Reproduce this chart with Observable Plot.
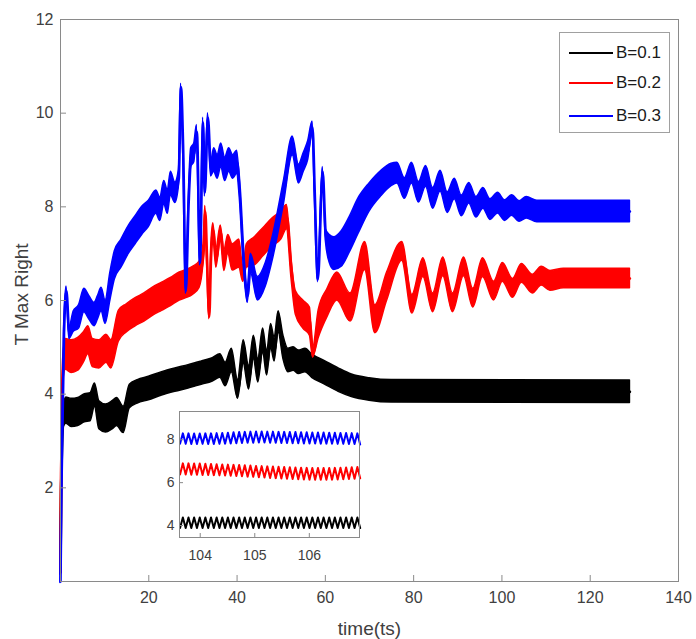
<!DOCTYPE html>
<html><head><meta charset="utf-8">
<script src="https://cdn.jsdelivr.net/npm/d3@7"></script>
<script src="https://cdn.jsdelivr.net/npm/@observablehq/plot@0.6"></script>
<style>
body{margin:0;background:#fff;}
#wrap{position:relative;width:696px;height:639px;font-family:"Liberation Sans",Arial,sans-serif;overflow:hidden;}
#wrap svg{position:absolute;}
.legend{position:absolute;left:559px;top:32px;width:111px;height:101px;border:1px solid #a0a0a0;background:#fff;box-sizing:border-box;}
.legend .ln{position:absolute;left:9px;width:44px;height:2px;}
.legend .tx{position:absolute;left:56px;font-size:17px;line-height:20px;color:#1a1a1a;white-space:nowrap;}
</style></head><body><div id="wrap"></div><script>
// ---- data: [time, centre value, half band width] ----
const seriesNames = ["B=0.1", "B=0.2", "B=0.3"];
const seriesColors = ["#000000", "#ff0000", "#0000ff"];
const xTicks = [20, 40, 60, 80, 100, 120, 140];
const yTicks = [2, 4, 6, 8, 10, 12];
const insetXTicks = [104, 105, 106];
const insetYTicks = [4, 6, 8];

const black = [
[0,0.2,0.05],[0.15,2.0,0.08],[0.7,3.5,0.22],[1.3,3.65,0.28],[2.5,3.6,0.3],[4,3.62,0.3],[5.5,3.7,0.3],[6.8,3.72,0.3],[7.8,3.98,0.25],[8.8,3.55,0.3],[10.3,3.48,0.3],[11.8,3.55,0.3],[12.8,3.62,0.3],[14.3,3.45,0.28],[15.7,3.95,0.25],[17.5,4.05,0.25],[20,4.12,0.25],[23,4.22,0.25],[26,4.3,0.25],[29,4.37,0.25],[32,4.45,0.25],[34.5,4.52,0.25],[36.2,4.6,0.25],[37.4,4.42,0.25],[38.8,4.72,0.25],[40.2,4.1,0.2],[41.5,4.9,0.25],[42.7,4.35,0.25],[43.8,5.0,0.25],[44.8,4.5,0.25],[45.9,5.15,0.25],[46.8,4.65,0.25],[47.7,5.25,0.25],[48.5,4.95,0.25],[49.4,5.55,0.22],[50.5,5.0,0.25],[51.6,4.72,0.25],[52.8,4.75,0.25],[54,4.68,0.25],[55.5,4.72,0.25],[57,4.6,0.25],[60,4.45,0.25],[63,4.3,0.25],[66,4.18,0.24],[70,4.1,0.24],[75,4.06,0.24],[129,4.05,0.24]
];
const red = [
[0,0.2,0.05],[0.15,2.3,0.08],[0.6,4.5,0.25],[1.2,4.85,0.33],[2.5,4.8,0.35],[4,4.85,0.35],[5.3,5.0,0.32],[6.3,5.15,0.3],[7.3,4.88,0.3],[8.8,4.85,0.3],[10.4,4.97,0.3],[11.5,4.85,0.3],[13.2,5.45,0.33],[15,5.62,0.3],[17,5.75,0.3],[19,5.85,0.3],[21,5.98,0.3],[23,6.08,0.3],[25,6.18,0.3],[27,6.3,0.3],[28.5,6.35,0.3],[30,6.42,0.3],[31.5,6.55,0.28],[32.4,7.0,0.2],[32.8,7.9,0.12],[33.2,6.9,0.12],[33.7,5.65,0.05],[34.1,6.9,0.15],[34.6,7.5,0.15],[35.3,6.9,0.2],[36.3,7.45,0.15],[37.1,6.85,0.22],[38.0,7.2,0.2],[39,6.92,0.28],[40.5,7.0,0.3],[41.4,6.55,0.15],[42.2,6.95,0.25],[44,7.05,0.3],[46,7.25,0.3],[48,7.45,0.3],[50,7.6,0.3],[51.3,7.78,0.26],[52.3,6.7,0.2],[53.3,5.95,0.25],[55,5.7,0.3],[56.5,5.55,0.3],[57.2,4.88,0.1],[58.5,5.5,0.3],[60.5,5.95,0.3],[62.7,6.3,0.3],[65.7,5.85,0.3],[69,6.95,0.3],[71.3,5.6,0.3],[74,6.3,0.3],
[77.4,7.05,0.2],[79.7,5.92,0.2],[82.2,6.7,0.2],[84.4,5.95,0.2],[86.7,6.72,0.2],[88.9,5.95,0.2],[91.4,6.72,0.2],[93.5,6.05,0.2],[95.7,6.7,0.2],[98.2,6.2,0.2],[100.2,6.6,0.2],[102.5,6.26,0.2],[104.5,6.58,0.2],[107,6.35,0.2],[109,6.52,0.2],[111,6.42,0.21],[114,6.47,0.21],[129,6.47,0.21]
];
const blue = [
[0,0,0.03],[0.25,2.2,0.05],[0.8,5.3,0.1],[1.35,6.2,0.1],[2.0,5.3,0.12],[3.0,5.55,0.22],[4.2,5.65,0.25],[5.4,6.0,0.25],[6.5,5.85,0.25],[7.7,5.7,0.25],[8.5,5.85,0.25],[9.3,6.02,0.25],[10.2,5.75,0.25],[11.3,6.3,0.3],[12.3,6.75,0.3],[13.8,7.0,0.3],[15.5,7.3,0.3],[17,7.5,0.3],[18.5,7.7,0.3],[20,7.85,0.28],[21.7,8.1,0.25],[22.6,7.95,0.25],[23.5,8.3,0.25],[24.3,8.1,0.25],[25,8.5,0.25],[26,8.3,0.22],[26.8,8.6,0.18],[27.3,10.55,0.08],[27.8,9.2,0.08],[28.4,6.2,0.06],[29.0,8.0,0.1],[29.6,9.05,0.2],[30.3,9.15,0.2],[30.9,9.6,0.15],[31.6,6.8,0.06],[32.3,9.8,0.1],[32.7,8.3,0.08],[33.4,9.9,0.1],[34.1,8.8,0.15],[34.8,9.0,0.25],[35.6,8.85,0.25],[36.4,9.1,0.25],[37.3,8.8,0.25],[38.2,9.0,0.25],[39.1,8.85,0.25],[40.0,8.95,0.25],[40.6,8.4,0.2],[41.5,6.9,0.15],[42.4,6.1,0.15],[43.1,6.8,0.2],[44.7,6.25,0.25],[46.5,6.55,0.25],[48.3,7.2,0.25],[50.6,8.3,0.25],[52.6,9.3,0.2],[54,8.7,0.2],[55.1,8.95,0.2],[56.1,9.2,0.2],[57.1,9.7,0.12],[57.6,8.3,0.08],[58.3,6.45,0.06],[59.4,8.75,0.1],[60.1,7.4,0.12],[61,7.1,0.3],[62,7.0,0.35],[63.7,7.1,0.38],[65.5,7.4,0.38],[67.5,7.8,0.38],[70,8.2,0.3],[72.7,8.5,0.27],[75,8.68,0.24],
[76.3,8.72,0.22],[78,8.39,0.22],[79.6,8.72,0.22],[81.2,8.31,0.22],[82.8,8.65,0.22],[84.4,8.18,0.22],[86.1,8.55,0.22],[87.7,8.09,0.22],[89.3,8.38,0.22],[90.9,8.02,0.22],[92.6,8.29,0.22],[94.2,7.99,0.22],[95.8,8.18,0.22],[97.4,7.94,0.22],[99.1,8.08,0.22],[100.7,7.92,0.22],[102.3,8.03,0.22],[104,7.9,0.22],[105.6,7.98,0.23],[108,7.9,0.23],[129,7.9,0.23]
];

// ---- inset (zoom 103.6 .. 106.9): troughs and crests of the fast oscillation ----
const insetStart = 103.63, insetHalfPeriod = 0.0516;
const insetBlackLo = [3.88,3.88,3.88,3.88,3.88,3.88,3.88,3.88,3.88,3.88,3.88,3.88,3.88,3.88,3.88,3.88,3.88,3.88,3.88,3.88,3.88,3.88,3.88,3.88,3.88,3.88,3.88,3.88,3.88,3.88,3.88,3.88,3.88];
const insetBlackHi = [4.37,4.37,4.37,4.37,4.37,4.37,4.37,4.37,4.37,4.37,4.37,4.37,4.37,4.37,4.37,4.37,4.37,4.37,4.37,4.37,4.37,4.37,4.37,4.37,4.37,4.37,4.37,4.37,4.37,4.37,4.37,4.37];
const insetRedLo = [6.38,6.38,6.37,6.37,6.36,6.36,6.35,6.34,6.33,6.32,6.31,6.30,6.28,6.27,6.25,6.24,6.22,6.21,6.19,6.18,6.17,6.16,6.15,6.14,6.13,6.13,6.13,6.14,6.15,6.16,6.17,6.18,6.20];
const insetRedHi = [6.90,6.90,6.89,6.89,6.88,6.87,6.86,6.85,6.84,6.83,6.82,6.81,6.80,6.78,6.77,6.76,6.75,6.74,6.73,6.72,6.71,6.70,6.69,6.68,6.68,6.68,6.68,6.69,6.70,6.71,6.72,6.73];
const insetBlueLo = [7.82,7.81,7.80,7.80,7.81,7.80,7.80,7.81,7.82,7.83,7.84,7.85,7.86,7.86,7.87,7.87,7.86,7.86,7.85,7.85,7.84,7.84,7.83,7.83,7.83,7.82,7.82,7.82,7.81,7.81,7.80,7.80,7.78];
const insetBlueHi = [8.30,8.30,8.29,8.29,8.30,8.30,8.31,8.32,8.33,8.35,8.36,8.37,8.38,8.39,8.39,8.38,8.38,8.37,8.37,8.36,8.36,8.35,8.35,8.34,8.34,8.34,8.33,8.33,8.32,8.32,8.31,8.30];

// ---- build ----
const toRows = pts => pts.map(([t, c, w]) => ({t, c, lo: c - w, hi: c + w}));
const mainSeries = [black, red, blue].map((pts, i) => ({name: seriesNames[i], color: seriesColors[i], rows: toRows(pts)}));
function zig(lo, hi) {
  const out = [];
  for (let i = 0; i < lo.length; i++) {
    out.push({t: insetStart + 2 * i * insetHalfPeriod, v: lo[i]});
    if (i < hi.length) out.push({t: insetStart + (2 * i + 1) * insetHalfPeriod, v: hi[i]});
  }
  return out;
}
const insetSeries = [zig(insetBlackLo, insetBlackHi), zig(insetRedLo, insetRedHi), zig(insetBlueLo, insetBlueHi)];

const axisGray = "#8a8a8a";
const textGray = "#404040";
const font = "'Liberation Sans', Arial, Helvetica, sans-serif";

const main = Plot.plot({
  width: 696, height: 639,
  marginLeft: 60, marginRight: 18, marginTop: 19, marginBottom: 58,
  x: {domain: [0, 140]},
  y: {domain: [0, 12]},
  style: {fontFamily: font, fontSize: "16px", color: textGray, background: "transparent", overflow: "visible"},
  marks: [
    ...mainSeries.flatMap(s => [
      Plot.areaY(s.rows, {x: "t", y1: "lo", y2: "hi", fill: s.color, stroke: s.color, strokeWidth: 1.5, curve: "monotone-x"}),
      Plot.line(s.rows, {x: "t", y: "c", stroke: s.color, strokeWidth: 2.6, curve: "monotone-x"})
    ]),
    Plot.frame({stroke: axisGray}),
    Plot.axisX({ticks: xTicks, tickSize: 6, dy: -6, tickFormat: () => "", stroke: axisGray, label: null}),
    Plot.axisX({ticks: xTicks, tickSize: 0, tickPadding: 10, tickFormat: d => String(d), label: null, fill: textGray}),
    Plot.axisY({ticks: yTicks, tickSize: 6, dx: 6, tickFormat: () => "", stroke: axisGray, label: null}),
    Plot.axisY({ticks: yTicks, tickSize: 0, tickPadding: 7, tickFormat: d => String(d), label: null, fill: textGray}),
    Plot.text(["time(ts)"], {frameAnchor: "bottom", dy: 47, lineAnchor: "middle", textAnchor: "middle", text: d => d, fontSize: 19, fill: textGray}),
    Plot.text(["T Max Right"], {frameAnchor: "left", dx: -39, dy: -6, rotate: -90, textAnchor: "middle", lineAnchor: "middle", text: d => d, fontSize: 19, fill: textGray})
  ]
});
main.style.left = "0px"; main.style.top = "0px";

const inset = Plot.plot({
  width: 230, height: 165,
  marginLeft: 39, marginRight: 11, marginTop: 6, marginBottom: 33,
  x: {domain: [103.62, 106.92]},
  y: {domain: [3.44, 9.32]},
  style: {fontFamily: font, fontSize: "14px", color: textGray, background: "transparent", overflow: "visible"},
  marks: [
    Plot.frame({fill: "white", stroke: axisGray}),
    ...insetSeries.map((rows, i) => Plot.line(rows, {x: "t", y: "v", stroke: seriesColors[i], strokeWidth: 2})),
    Plot.frame({stroke: axisGray}),
    Plot.axisX({ticks: insetXTicks, tickSize: 4, dy: -4, tickFormat: () => "", stroke: axisGray, label: null}),
    Plot.axisX({ticks: insetXTicks, tickSize: 0, tickPadding: 13, tickFormat: d => String(d), label: null, fill: textGray}),
    Plot.axisY({ticks: insetYTicks, tickSize: 4, dx: 4, tickFormat: () => "", stroke: axisGray, label: null}),
    Plot.axisY({ticks: insetYTicks, tickSize: 0, tickPadding: 5, tickFormat: d => String(d), label: null, fill: textGray})
  ]
});
inset.style.left = "140px"; inset.style.top = "405px";

const wrap = document.getElementById("wrap");
wrap.appendChild(main);
wrap.appendChild(inset);

const legend = document.createElement("div");
legend.className = "legend";
const rowY = [19.7, 50.3, 83];
mainSeries.forEach((s, i) => {
  const ln = document.createElement("div");
  ln.className = "ln"; ln.style.top = (rowY[i] - 1) + "px"; ln.style.background = s.color;
  const tx = document.createElement("div");
  tx.className = "tx"; tx.style.top = (rowY[i] - 10) + "px"; tx.textContent = s.name;
  legend.appendChild(ln); legend.appendChild(tx);
});
wrap.appendChild(legend);
</script></body></html>
